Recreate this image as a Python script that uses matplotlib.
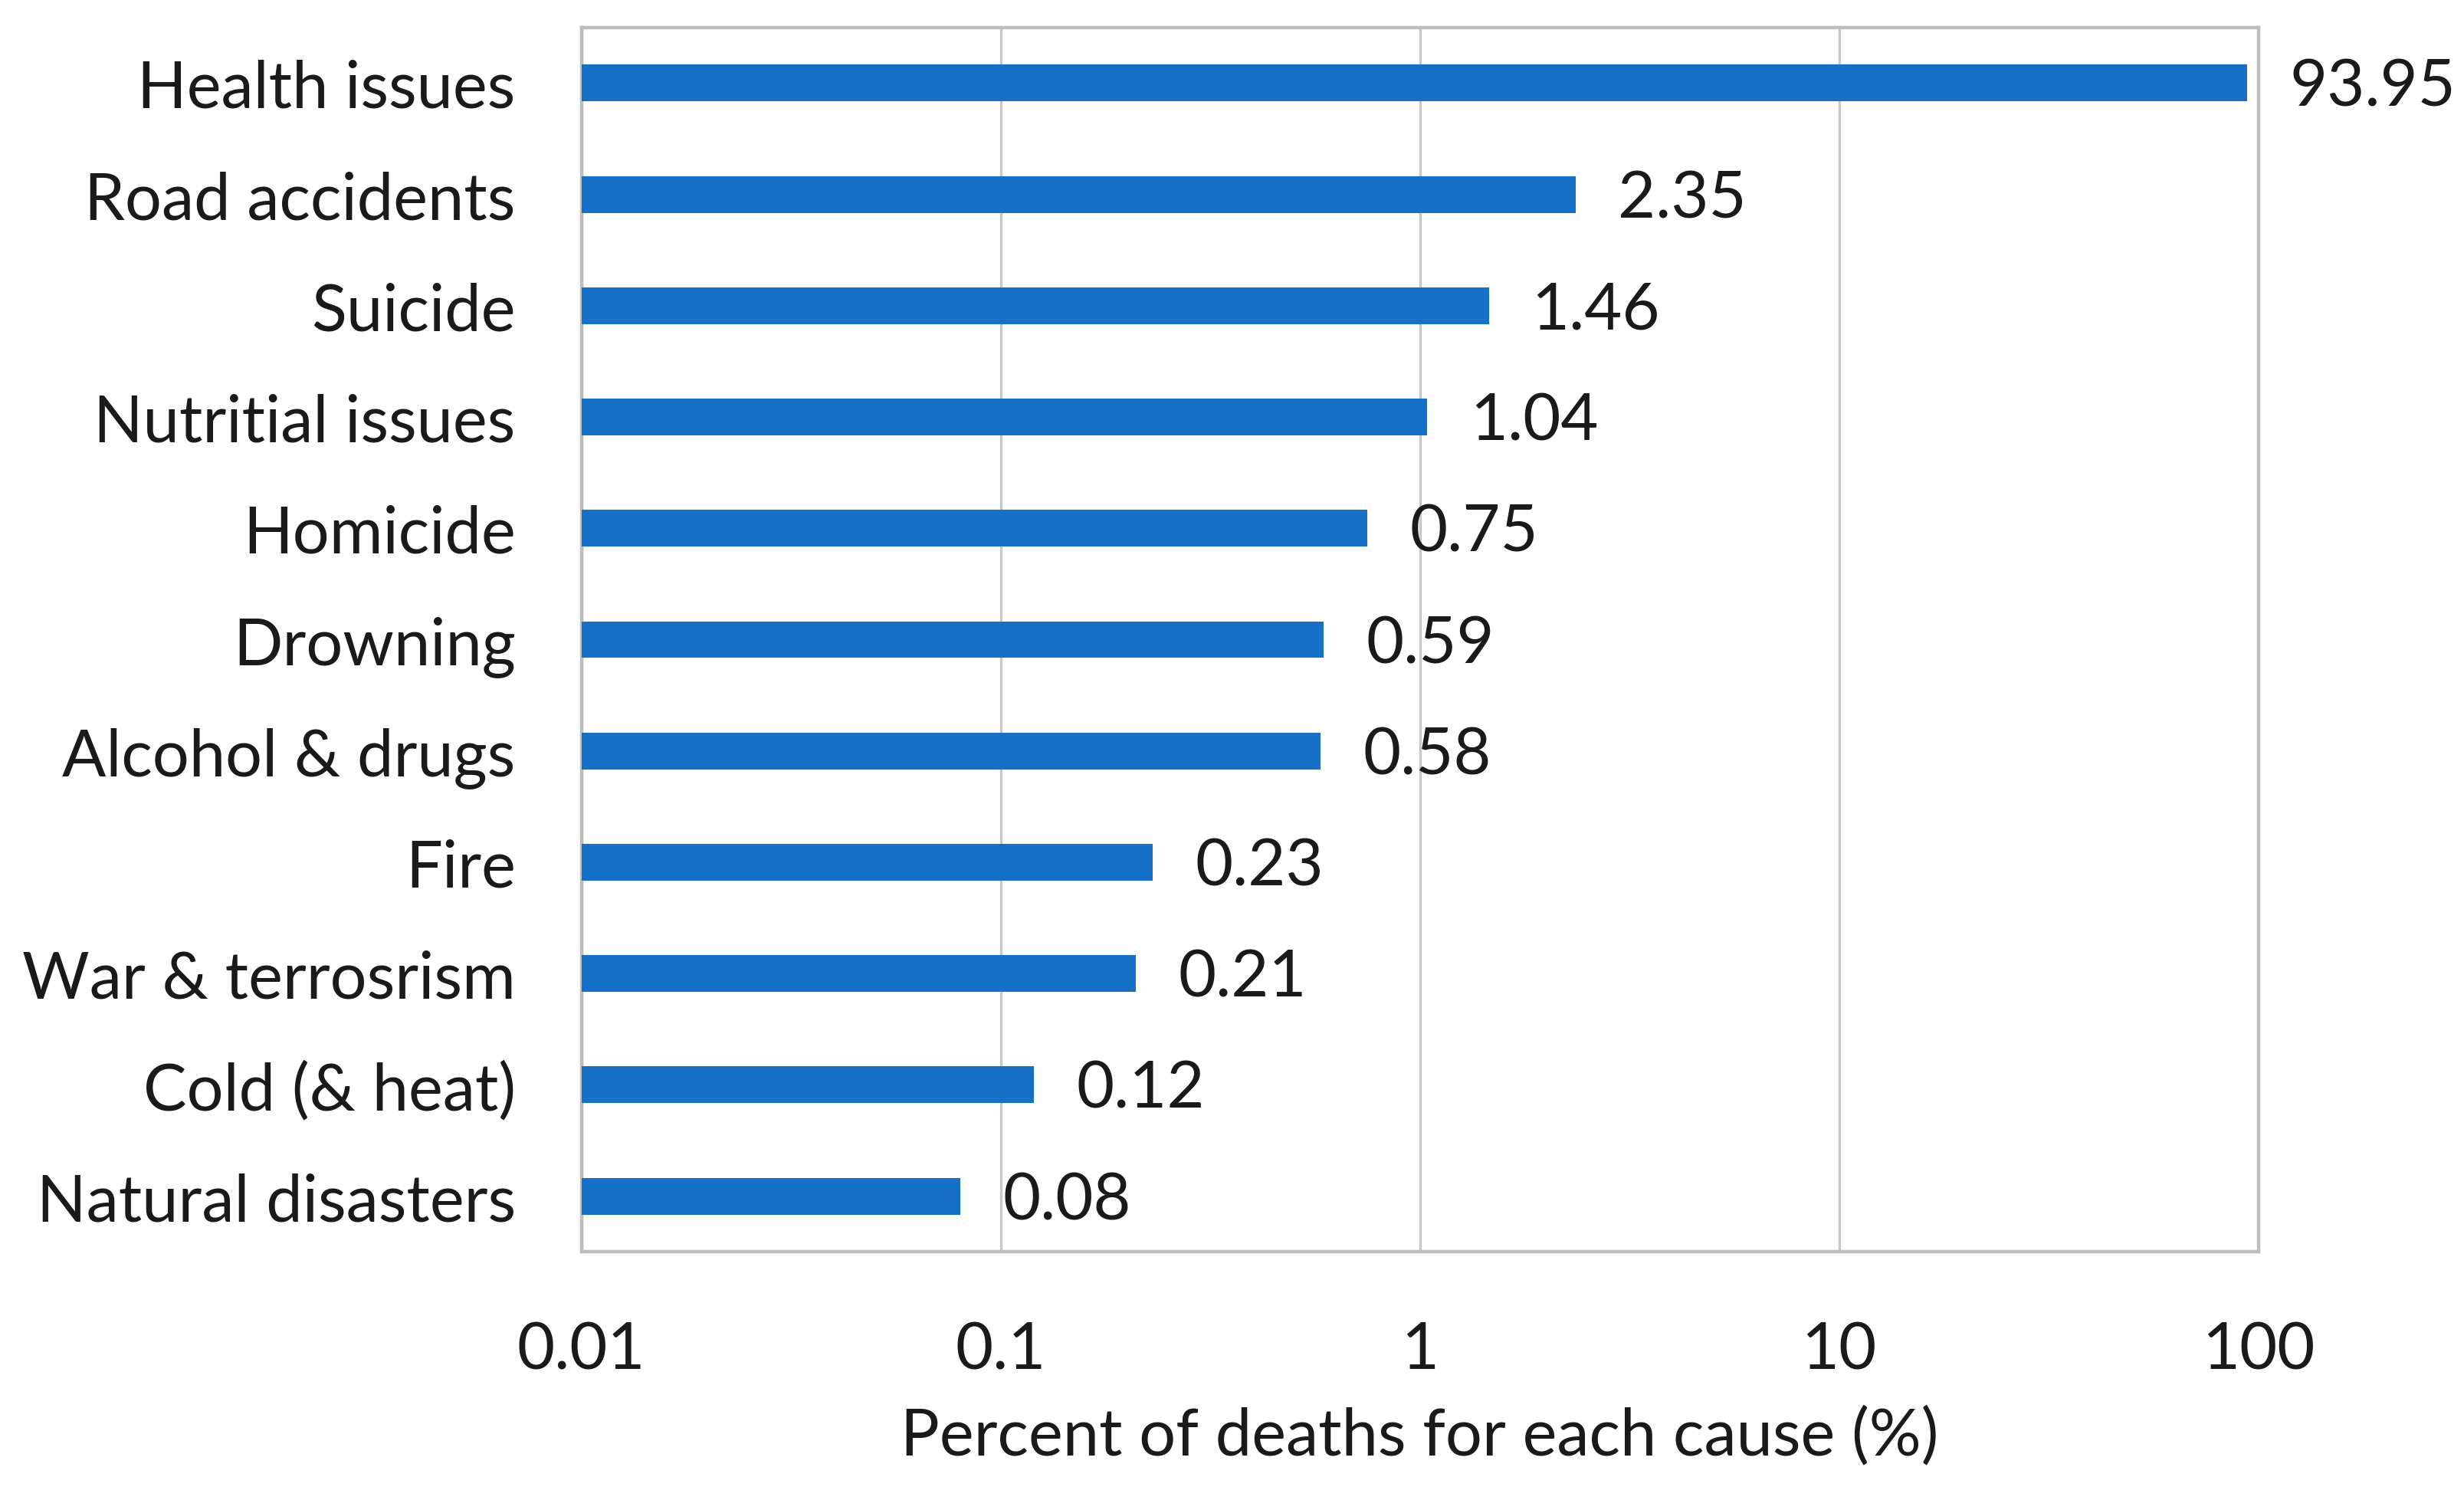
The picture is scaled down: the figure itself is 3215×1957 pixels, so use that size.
import matplotlib.pyplot as plt

# Data (top to bottom as shown)
causes = ['Health issues', 'Road accidents', 'Suicide', 'Nutritial issues',
          'Homicide', 'Drowning', 'Alcohol & drugs', 'Fire',
          'War & terrosrism', 'Cold (& heat)', 'Natural disasters']
percent = [93.95, 2.35, 1.46, 1.04, 0.75, 0.59, 0.58, 0.23, 0.21, 0.12, 0.08]
value_labels = ['93.95', '2.35', '1.46', '1.04', '0.75', '0.59', '0.58',
                '0.23', '0.21', '0.12', '0.08']
xticks = [0.01, 0.1, 1, 10, 100]
xtick_labels = ['0.01', '0.1', '1', '10', '100']

plt.rcParams['font.family'] = ['Lato', 'DejaVu Sans']
FS = 30.5

fig = plt.figure(figsize=(16.075, 9.79), dpi=200)
ax = fig.add_axes([0.236, 0.1654, 0.6805, 0.8158])

pos = list(range(len(causes)))
base = 0.01
ax.barh(pos, [p - base for p in percent], left=base, height=0.33,
        color='#1570c8', zorder=3)

ax.set_xscale('log')
ax.set_xlim(0.01, 100)
ax.set_ylim(len(causes) - 0.5, -0.5)

ax.set_yticks(pos)
ax.set_yticklabels(causes, fontsize=FS, color='#1a1a1a')
ax.set_xticks(xticks)
ax.set_xticklabels(xtick_labels, fontsize=FS, color='#1a1a1a')
ax.minorticks_off()
ax.tick_params(axis='both', length=0)
ax.tick_params(axis='y', pad=31)
ax.tick_params(axis='x', pad=32)

ax.grid(axis='x', color='#c8c8c8', linewidth=1.2, zorder=0)
for s in ax.spines.values():
    s.set_color('#bdbdbd')
    s.set_linewidth(1.6)

for y, v, lab in zip(pos, percent, value_labels):
    ax.annotate(lab, (v, y), xytext=(20, -2), textcoords='offset points',
                ha='left', va='center', fontsize=FS, color='#1a1a1a',
                annotation_clip=False)

ax.set_xlabel('Percent of deaths for each cause (%)', fontsize=FS,
              color='#1a1a1a', labelpad=12)

fig.savefig('out.png', dpi=200, facecolor='white')
